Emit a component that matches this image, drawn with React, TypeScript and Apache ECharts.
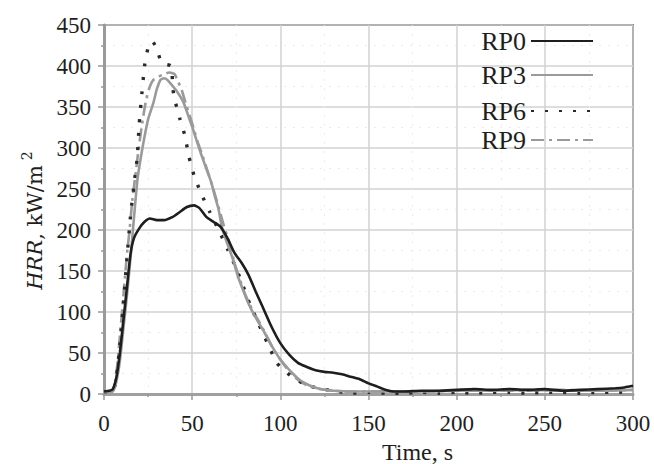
import React, { useEffect, useRef } from "react";
import * as echarts from "echarts";

const seriesNames = ["RP0", "RP3", "RP6", "RP9"];
const xTickLabels = ["0", "50", "100", "150", "200", "250", "300"];
const yTickLabels = ["0", "50", "100", "150", "200", "250", "300", "350", "400", "450"];

const rp0: [number, number][] = [
  [0, 3], [3, 4], [5, 6], [7, 20], [9, 50], [11, 90], [13, 130], [15, 170], [17, 190], [20, 202],
  [23, 210], [26, 214], [30, 212], [34, 212], [39, 216], [43, 222], [47, 228], [51, 230], [54, 227],
  [58, 216], [62, 210], [66, 204], [70, 190], [74, 172], [78, 160], [82, 145], [86, 125], [90, 106],
  [95, 82], [100, 62], [105, 48], [110, 38], [115, 33], [120, 29], [125, 27], [130, 26], [135, 24],
  [140, 21], [145, 18], [150, 13], [155, 9], [160, 5], [165, 3], [170, 3], [180, 4], [190, 4],
  [200, 5], [210, 6], [220, 5], [230, 6], [240, 5], [250, 6], [260, 4], [270, 5], [280, 6],
  [290, 7], [295, 8], [300, 10],
];

const rp3: [number, number][] = [
  [0, 2], [5, 3], [7, 15], [9, 40], [11, 80], [13, 120], [15, 165], [17, 215], [19, 262], [21, 290],
  [23, 314], [25, 335], [28, 355], [30, 372], [32, 383], [34, 385], [36, 383], [38, 378], [41, 370],
  [45, 356], [48, 338], [50, 326], [53, 306], [55, 293], [58, 275], [61, 257], [63, 240], [65, 225],
  [67, 202], [70, 183], [73, 165], [76, 143], [79, 126], [82, 110], [85, 97], [88, 86], [91, 75],
  [94, 63], [97, 52], [100, 42], [104, 32], [107, 25], [111, 17], [116, 11], [121, 7], [126, 5],
  [130, 4], [140, 3], [150, 3], [160, 3], [170, 3], [180, 3], [200, 4], [220, 4], [240, 5],
  [260, 4], [280, 4], [300, 5],
];

const rp6: [number, number][] = [
  [0, 2], [5, 3], [7, 20], [9, 60], [11, 110], [13, 165], [15, 216], [17, 255], [18.7, 285], [20, 330],
  [21, 355], [23, 400], [25, 422], [27.5, 430], [30, 420], [32.5, 405], [35, 402], [38, 400],
  [39.5, 365], [43, 336], [46, 314], [48, 291], [51, 267], [55, 245], [60, 222], [65, 200],
  [70, 177], [75, 153], [79, 131], [83, 108], [88, 84], [92.5, 63], [98, 38], [103, 27], [108, 19],
  [113, 13], [118, 9], [124, 6], [130, 4], [140, 1], [150, 2], [160, 1], [170, 1], [180, 2],
  [190, 1], [200, 2], [210, 1], [220, 2], [230, 2], [240, 1], [250, 2], [260, 2], [270, 1],
  [280, 2], [290, 2], [300, 3],
];

const rp9: [number, number][] = [
  [0, 2], [5, 4], [7, 25], [9, 70], [11, 120], [13, 170], [14.5, 200], [16, 235], [18, 270],
  [20, 305], [22, 335], [24, 360], [26, 375], [28, 383], [31, 387], [34, 390], [37, 392], [40, 390],
  [42, 381], [44, 371], [47, 350], [50, 330], [53, 308], [56, 290], [59, 270], [62, 250], [65, 228],
  [68, 205], [71, 185], [74, 160], [77, 140], [80, 122], [84, 103], [88, 88], [92, 72], [96, 55],
  [100, 42], [104, 30], [108, 21], [112, 14], [117, 9], [122, 6], [130, 4], [140, 3], [160, 3],
  [180, 3], [200, 4], [220, 4], [240, 4], [260, 5], [280, 4], [300, 5],
];

const FONT = "Liberation Serif";
const WIDE = "DejaVu Serif";

export default function App() {
  const ref = useRef<HTMLDivElement>(null);
  useEffect(() => {
    if (!ref.current) return;
    const chart = echarts.init(ref.current, undefined, { renderer: "svg" });
    const styles = [
      { color: "#1e1e1e", width: 2.6, type: "solid" as any },
      { color: "#9a9a9a", width: 2.6, type: "solid" as any },
      { color: "#2a2a2a", width: 3.4, type: [3, 11] as any },
      { color: "#9a9a9a", width: 2.6, type: [13, 5, 3, 5] as any },
    ];
    const datas = [rp0, rp3, rp6, rp9];
    const legendTops = [23, 57, 93, 122];
    chart.setOption({
      animation: false,
      backgroundColor: "#ffffff",
      textStyle: { fontFamily: FONT },
      grid: {
        left: 104,
        right: 21,
        top: 25,
        bottom: 70,
        containLabel: false,
        outerBoundsMode: "none",
        show: true,
        borderColor: "#1e1e1e",
        borderWidth: 1.5,
        backgroundColor: "transparent",
      },
      legend: seriesNames.map((n, i) => ({
        data: [n],
        right: 55,
        top: legendTops[i],
        orient: "vertical",
        align: "right",
        itemWidth: 62,
        itemHeight: 14,
        itemStyle: { opacity: 0 },
        textStyle: { fontFamily: FONT, fontSize: 26, color: "#1e1e1e" },
        selectedMode: false,
      })),
      xAxis: {
        type: "value",
        min: 0,
        max: 300,
        interval: 50,
        name: "Time, s",
        nameLocation: "middle",
        nameGap: 45,
        nameTextStyle: { fontFamily: FONT, fontSize: 24, color: "#1e1e1e", padding: [0, 0, 0, 98] },
        axisLine: { show: true, lineStyle: { color: "#a0a0a0", width: 3 } },
        axisTick: { show: true, inside: false, length: 6, lineStyle: { color: "#999", width: 1.5 } },
        minorTick: { show: true, splitNumber: 2, length: 3, lineStyle: { color: "#999", width: 1.5 } },
        axisLabel: {
          fontFamily: FONT,
          fontSize: 23,
          color: "#1e1e1e",
          margin: 18,
          formatter: (v: number) => xTickLabels[Math.round(v / 50)] ?? "",
        },
        splitLine: { show: true, lineStyle: { color: "#d2d2d2", width: 1.5 } },
        minorSplitLine: { show: true, lineStyle: { color: "#ececec", width: 1, type: [2, 7] } },
      },
      yAxis: {
        type: "value",
        min: 0,
        max: 450,
        interval: 50,
        name: "{i|HRR}{t|, kW/m}{s|2}",
        nameLocation: "middle",
        nameGap: 54,
        nameTextStyle: {
          fontFamily: WIDE,
          fontSize: 21,
          color: "#1e1e1e",
          padding: [0, 22, 0, 0],
          rich: {
            i: { fontFamily: WIDE, fontSize: 21, fontStyle: "italic", color: "#1e1e1e" },
            t: { fontFamily: WIDE, fontSize: 21, color: "#1e1e1e" },
            s: { fontFamily: WIDE, fontSize: 14, color: "#1e1e1e", padding: [0, 0, 16, 5] },
          },
        },
        axisLine: { show: true, lineStyle: { color: "#9a9a9a", width: 3 } },
        axisTick: { show: true, inside: false, length: 6, lineStyle: { color: "#999", width: 1.5 } },
        minorTick: { show: true, splitNumber: 2, length: 3, lineStyle: { color: "#999", width: 1.5 } },
        axisLabel: {
          fontFamily: FONT,
          fontSize: 23,
          color: "#1e1e1e",
          margin: 13,
          formatter: (v: number) => yTickLabels[Math.round(v / 50)] ?? "",
        },
        splitLine: { show: true, lineStyle: { color: "#d2d2d2", width: 1.5 } },
        minorSplitLine: { show: true, lineStyle: { color: "#ececec", width: 1, type: [2, 7] } },
      },
      series: seriesNames.map((n, i) => ({
        name: n,
        type: "line",
        data: datas[i],
        symbol: "none",
        showSymbol: false,
        smooth: 0.2,
        lineStyle: styles[i],
        itemStyle: { color: styles[i].color },
        z: 10 - i,
      })),
    });
    return () => chart.dispose();
  }, []);
  return <div ref={ref} style={{ width: 654, height: 464, position: "absolute", left: 0, top: 0 }} />;
}
